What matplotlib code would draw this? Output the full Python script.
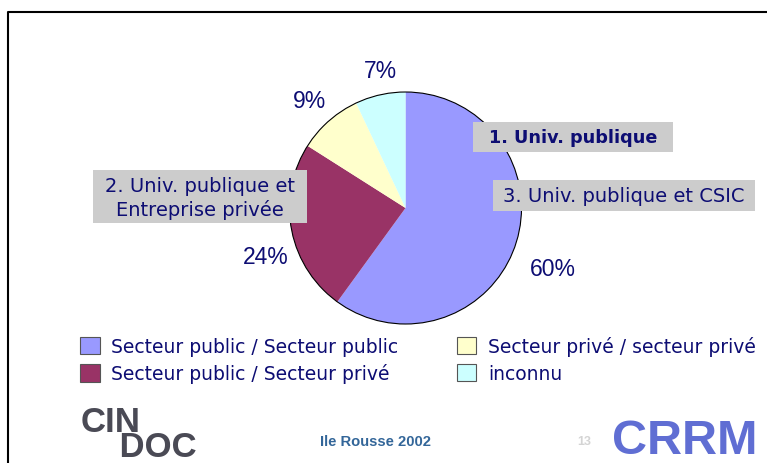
import numpy as np
import matplotlib
matplotlib.use('Agg')
import matplotlib.pyplot as plt
from matplotlib.patches import Rectangle, Circle

# data
categories = ['Secteur public / Secteur public', 'Secteur public / Secteur privé',
              'Secteur privé / secteur privé', 'inconnu']
shares = [60, 24, 9, 7]
pct_labels = ['60%', '24%', '9%', '7%']
colors = ['#9999FF', '#993366', '#FFFFCC', '#CCFFFF']

W, H = 767, 464
NAVY = '#0d0d73'


def Y(y):
    # pixel row (from top) -> data y
    return H - y


fig = plt.figure(figsize=(W / 100, H / 100), dpi=100)
ax = fig.add_axes([0, 0, 1, 1])

wedges, _ = ax.pie(shares, colors=colors, startangle=90, counterclock=False,
                   center=(405.5, Y(209)), radius=116,
                   wedgeprops=dict(linewidth=0))
ax.add_patch(Circle((405.5, Y(209)), 116, fill=False, ec='black', lw=0.8))

# percent labels
pct_pos = [(553, 270), (266, 258), (309, 101), (380, 71)]
for lab, (x, y) in zip(pct_labels, pct_pos):
    ax.text(x, Y(y), lab, ha='center', va='center', fontsize=16.5,
            family='Liberation Sans', color=NAVY)

# grey label boxes
ax.add_patch(Rectangle((473, Y(153)), 200, 30, fc='#CCCCCC', ec='none'))
ax.text(573, Y(138), '1. Univ. publique', ha='center', va='center',
        fontsize=12.7, fontweight='bold', family='DejaVu Sans', color=NAVY)
ax.add_patch(Rectangle((493, Y(212)), 262, 31, fc='#CCCCCC', ec='none'))
ax.text(624, Y(196.5), '3. Univ. publique et CSIC', ha='center', va='center',
        fontsize=14, family='DejaVu Sans', color=NAVY)
ax.add_patch(Rectangle((93, Y(224)), 214, 53, fc='#CCCCCC', ec='none'))
ax.text(200, Y(198), '2. Univ. publique et\nEntreprise privée', ha='center', va='center',
        fontsize=14, family='DejaVu Sans', color=NAVY, linespacing=1.25)

# legend
handles = [Rectangle((0, 0), 1, 1, fc=c, ec='#555555', lw=0.8) for c in colors]
leg = ax.legend(handles, categories, ncol=2, loc='upper left',
                bbox_to_anchor=(80, Y(337)), bbox_transform=ax.transData,
                frameon=False, borderpad=0, borderaxespad=0,
                prop=dict(family='DejaVu Sans', size=13.5),
                handlelength=1.05, handleheight=1.05, handletextpad=0.62,
                labelspacing=0.4, columnspacing=3.1)
for t in leg.get_texts():
    t.set_color(NAVY)

# frame lines
ax.plot([8, 8, W], [0, Y(12.7), Y(12.7)], color='black', lw=1.5, solid_capstyle='butt')

# footer
ax.text(81, Y(457), 'CIN\n    DOC', ha='left', va='baseline', multialignment='left',
        fontsize=25, fontweight='bold', linespacing=0.69,
        family='Liberation Sans', color='#4a4a55')
ax.text(375, Y(442), 'Ile Rousse 2002', ha='center', va='center', fontsize=10.6,
        fontweight='bold', family='Liberation Sans', color='#336699')
ax.text(584, Y(442), '13', ha='center', va='center', fontsize=9,
        fontweight='bold', family='Liberation Sans', color='#d4d4d4')
ax.text(612, Y(454), 'CRRM', ha='left', va='baseline', fontsize=35, fontweight='bold',
        family='Liberation Sans', color='#4455cc', alpha=0.85)

ax.set_xlim(0, W)
ax.set_ylim(0, H)
ax.set_aspect('auto')
ax.set_axis_off()

fig.savefig('out.png', dpi=100)
